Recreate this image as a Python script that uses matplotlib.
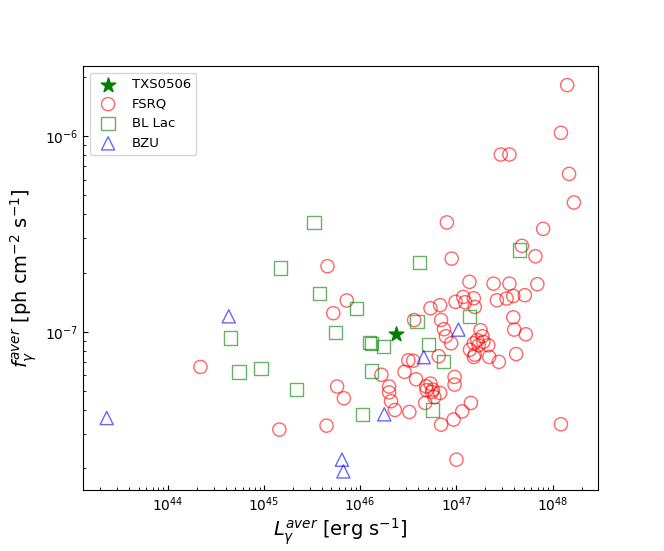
import numpy as np
import matplotlib
matplotlib.use("Agg")
import matplotlib.pyplot as plt

# log10 of L (erg/s) and f (ph/cm^2/s)
fsrq_logL = [44.34, 45.16, 45.65, 45.66, 45.72, 45.86, 45.76, 45.83, 46.22, 46.30,
             46.30, 46.32, 46.36, 46.51, 46.46, 46.50, 46.55, 46.58, 46.56, 46.73,
             46.83, 46.84, 46.87, 46.89, 46.945, 46.90, 46.95, 47.135, 46.99, 47.07,
             47.09, 47.18, 47.19, 47.385, 47.55, 47.84, 47.82, 47.42, 47.52, 47.59,
             47.71, 47.59, 47.60, 47.72, 47.25, 47.27, 47.215, 47.18, 47.23, 47.33,
             47.14, 47.19, 47.18, 47.34, 47.44, 47.62, 46.815, 46.685, 46.73, 46.745,
             46.69, 46.755, 46.83, 46.77, 46.675, 46.98, 46.98, 47.15, 47.06, 46.97,
             46.84, 47.00, 48.085, 48.15, 48.085, 47.46, 47.55, 48.17, 48.22, 47.90,
             47.68, 47.28]
fsrq_logf = [-7.18, -7.50, -7.48, -6.665, -6.905, -6.84, -7.28, -7.34, -7.22, -7.28,
             -7.31, -7.355, -7.40, -7.41, -7.205, -7.146, -7.148, -7.243, -6.94, -6.88,
             -6.864, -6.94, -6.987, -7.023, -7.059, -6.441, -6.626, -6.745, -6.847, -6.822,
             -6.849, -6.829, -6.873, -6.754, -6.754, -6.757, -6.614, -6.839, -6.83, -6.817,
             -6.813, -6.926, -6.989, -7.013, -6.992, -7.023, -7.043, -7.059, -7.069, -7.069,
             -7.092, -7.117, -7.129, -7.129, -7.154, -7.114, -7.125, -7.279, -7.265, -7.308,
             -7.299, -7.296, -7.313, -7.334, -7.364, -7.231, -7.27, -7.364, -7.407, -7.449,
             -7.475, -7.654, -7.473, -5.739, -5.983, -6.094, -6.094, -6.193, -6.339, -6.474,
             -6.561, -7.052]

bll_logL = [45.52, 45.175, 45.58, 45.96, 44.65, 45.74, 46.10, 46.12, 46.24, 44.74,
            44.97, 46.12, 45.34, 46.025, 46.62, 46.59, 46.71, 46.865, 46.75, 47.135,
            47.655]
bll_logf = [-6.441, -6.674, -6.806, -6.882, -7.032, -7.004, -7.056, -7.06, -7.074, -7.206,
            -7.187, -7.201, -7.296, -7.423, -6.644, -6.949, -7.066, -7.154, -7.40, -6.921,
            -6.582]

bzu_logL = [43.366, 44.634, 46.25, 45.81, 45.825, 46.66, 47.02]
bzu_logf = [-7.441, -6.921, -7.422, -7.654, -7.714, -7.13, -6.989]

txs_logL = [46.37]
txs_logf = [-7.009]

fig = plt.figure(figsize=(6.64, 5.51), dpi=100)
ax = fig.add_subplot(111)

ax.scatter(10 ** np.array(txs_logL), 10 ** np.array(txs_logf), marker='*', s=120,
           color='g', zorder=5, label='TXS0506')
ax.scatter(10 ** np.array(fsrq_logL), 10 ** np.array(fsrq_logf), marker='o', s=90,
           facecolors='none', edgecolors='r', alpha=0.6, linewidths=1.0, label='FSRQ')
ax.scatter(10 ** np.array(bll_logL), 10 ** np.array(bll_logf), marker='s', s=90,
           facecolors='none', edgecolors='g', alpha=0.6, linewidths=1.0, label='BL Lac')
ax.scatter(10 ** np.array(bzu_logL), 10 ** np.array(bzu_logf), marker='^', s=90,
           facecolors='none', edgecolors='b', alpha=0.6, linewidths=1.0, label='BZU')

ax.set_xscale('log')
ax.set_yscale('log')
ax.set_xlim(10 ** 43.12, 10 ** 48.466)
ax.set_ylim(10 ** -7.811, 10 ** -5.642)

ax.tick_params(which='both', direction='in', top=False, right=False)
ax.set_xlabel(r'$L_{\gamma}^{aver}$ [erg s$^{-1}$]', fontsize=14, labelpad=2)
ax.set_ylabel(r'$f_{\gamma}^{aver}$ [ph cm$^{-2}$ s$^{-1}$]', fontsize=14)
ax.legend(loc='upper left', fontsize=9.5)

fig.savefig('out.png', dpi=100)
